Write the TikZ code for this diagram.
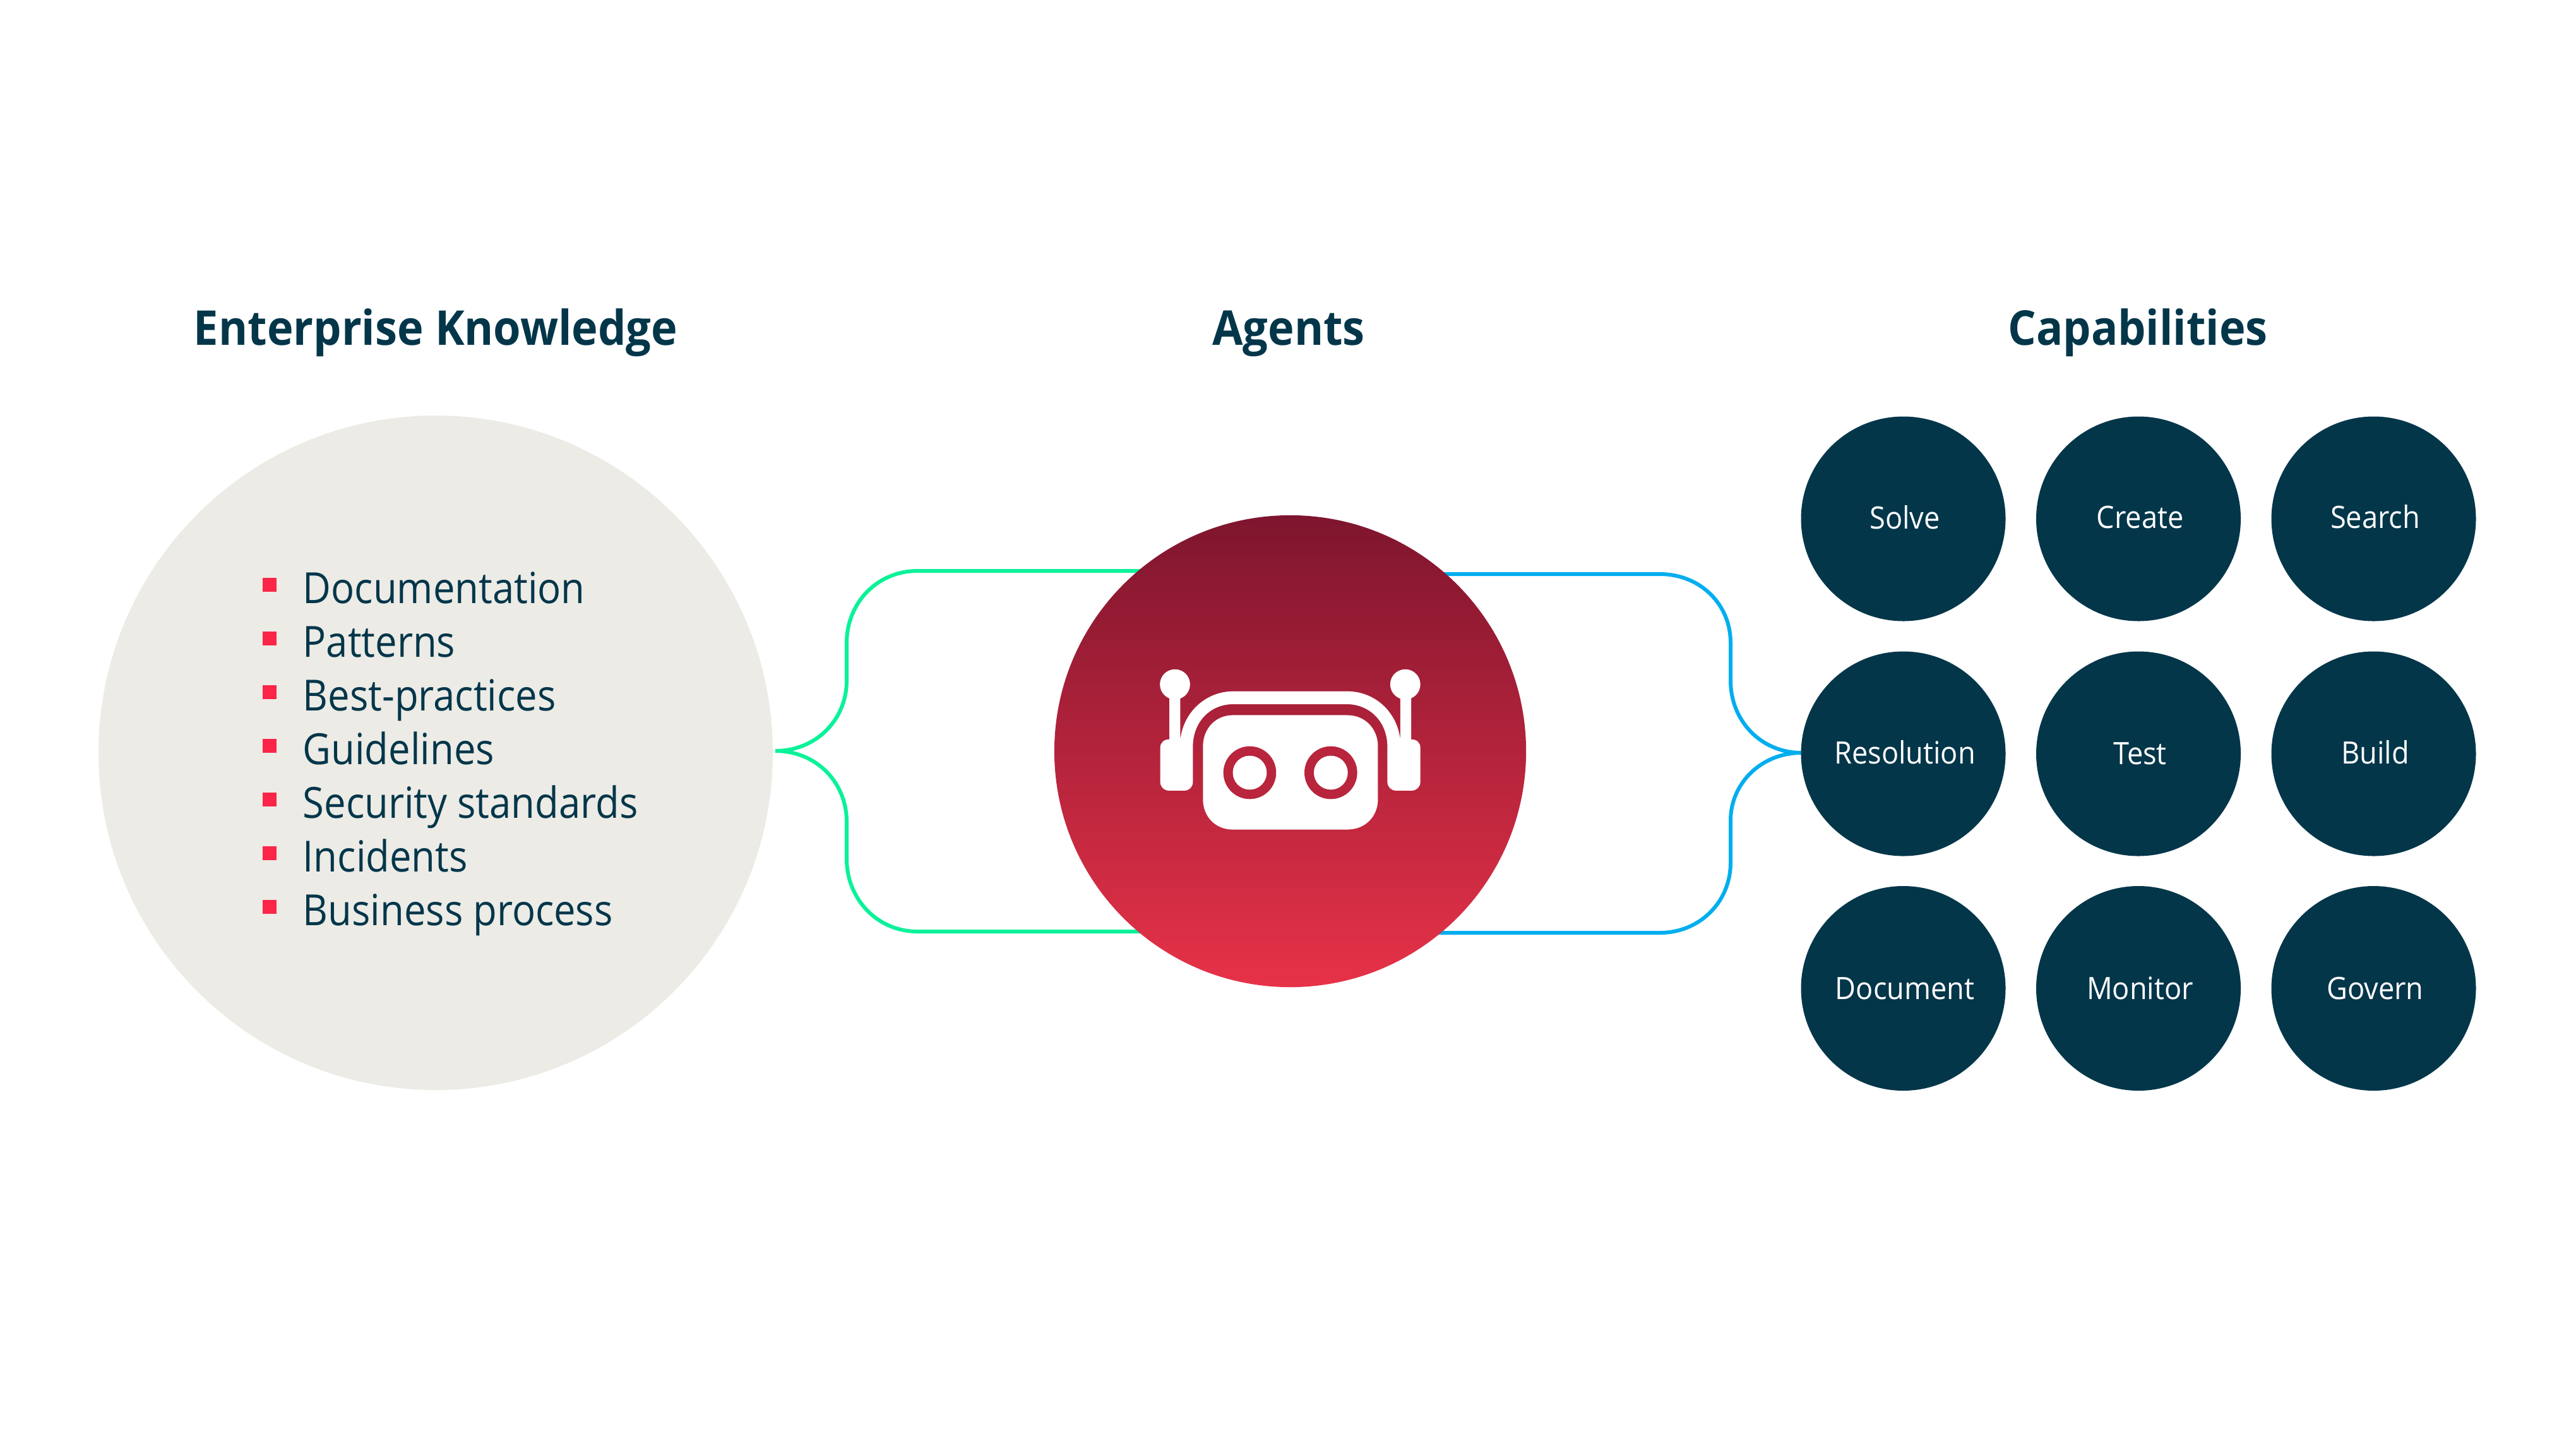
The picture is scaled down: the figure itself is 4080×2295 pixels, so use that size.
\documentclass[tikz,border=0pt]{standalone}
\usepackage{fontspec}
\setmainfont{Open Sans}
\newfontfamily\headfont[FakeStretch=0.925]{Open Sans}
\newfontfamily\listfont[FakeStretch=0.905]{Open Sans}
\newfontfamily\capfont[FakeStretch=0.925]{Open Sans}
\usetikzlibrary{shapes.geometric}
\definecolor{navy}{HTML}{04364A}
\definecolor{paper}{HTML}{ECEBE6}
\definecolor{mint}{HTML}{0AF299}
\definecolor{sky}{HTML}{00AEEF}
\definecolor{redbul}{HTML}{FB2548}
\definecolor{wine}{HTML}{7E152E}
\definecolor{rose}{HTML}{E73248}
\newcommand{\captext}[2][0pt]{\hspace*{1.25pt}\raisebox{#1}{#2}}
\tikzset{
  x=0.25pt,y=-0.25pt,
  heading/.style={font=\headfont\fontsize{19pt}{22pt}\selectfont\bfseries,text=navy,inner sep=0pt,anchor=base},
  capcircle/.style={circle,fill=navy,minimum size=81pt,inner sep=0pt,text=white,font=\capfont\fontsize{12.2pt}{14pt}\selectfont},
  listitem/.style={font=\listfont\fontsize{17pt}{20pt}\selectfont,text=navy,inner sep=0pt,anchor=base west},
  bulletmark/.style={fill=redbul,draw=none,inner sep=0pt,minimum size=5.5pt},
  linkg/.style={draw=mint,line width=1.5pt},
  linkb/.style={draw=sky,line width=1.5pt},
  iconfill/.style={fill=white,draw=none},
}
\begin{document}
\begin{tikzpicture}
\useasboundingbox (0,0) rectangle (4080,2295);
\fill[white] (0,0) rectangle (4080,2295);
% headings
\node[heading] (h1) at (690,546) {Enterprise Knowledge};
\node[heading] (h2) at (2041,546) {Agents};
\node[heading] (h3) at (3386,546) {Capabilities};
% knowledge circle
\node[circle,fill=paper,minimum size=267pt,inner sep=0pt] (know) at (690,1192) {};
% connectors
\coordinate (gtip) at (1228,1189);
\coordinate (btip) at (2853,1192);
\draw[linkg] (gtip) .. controls (1293,1189) and (1341,1139) .. (1341,1078) -- (1341,1018)
  .. controls (1341,954) and (1390,904) .. (1453,904) -- (1900,904);
\draw[linkg] (gtip) .. controls (1293,1189) and (1341,1239) .. (1341,1301) -- (1341,1360)
  .. controls (1341,1424) and (1390,1475) .. (1453,1475) -- (1900,1475);
\draw[linkb] (btip) .. controls (2790,1192) and (2741,1142) .. (2741,1078) -- (2741,1018)
  .. controls (2741,956) and (2692,909) .. (2629,909) -- (2200,909);
\draw[linkb] (btip) .. controls (2790,1192) and (2741,1240) .. (2741,1299) -- (2741,1366)
  .. controls (2741,1428) and (2692,1477) .. (2629,1477) -- (2200,1477);
% agent circle
\node[circle,shade,top color=wine,bottom color=rose,minimum size=186.8pt,inner sep=0pt] (agent) at (2043.5,1189.5) {};
% robot icon
\begin{scope}[shift={(1650,800)},x=0.1244pt,y=-0.1244pt]
  \fill[iconfill] (608,668) -- (972,668) .. controls (1030,668) and (1070,712) .. (1070,768)
    -- (1070,935) .. controls (1070,990) and (1030,1032) .. (972,1032) -- (608,1032)
    .. controls (552,1032) and (513,990) .. (513,935) -- (513,768) .. controls (513,712) and (552,668) .. (608,668) -- cycle;
  \fill[rose!55!wine] (662,851) circle [radius=84] (920,851) circle [radius=84];
  \fill[iconfill] (662,851) circle [radius=54] (920,851) circle [radius=54];
  % arch and earpieces
  \fill[iconfill] (441,745) .. controls (452,655) and (525,592) .. (610,592) -- (972,592)
    .. controls (1058,592) and (1130,655) .. (1141,745) -- (1141,612)
    -- (1176,612) -- (1176,745) .. controls (1193,745) and (1205,755) .. (1205,772) -- (1205,880)
    .. controls (1205,896) and (1193,908) .. (1177,908) -- (1127,908)
    .. controls (1112,908) and (1100,896) .. (1100,880) -- (1100,768)
    .. controls (1100,690) and (1045,633) .. (970,633) -- (610,633)
    .. controls (535,633) and (481,690) .. (481,768) -- (481,880)
    .. controls (481,896) and (470,908) .. (454,908) -- (404,908)
    .. controls (389,908) and (377,896) .. (377,880) -- (377,772)
    .. controls (377,755) and (389,745) .. (406,745) -- (406,612) -- (441,612) -- cycle;
  \fill[iconfill] (424,570) circle [radius=48] (1157,570) circle [radius=48];
\end{scope}
% list
\foreach \t/\yy [count=\i] in {Documentation/955,Patterns/1040,Best-practices/1125,Guidelines/1210,Security standards/1295,Incidents/1380,Business process/1465}{
  \node[bulletmark] (b\i) at (427,\yy-29) {};
  \node[listitem] (t\i) at (479,\yy) {\t};
}
% capabilities
\node[capcircle] (c11) at (3014.5,821.5) {\captext[1.3pt]{Solve}};
\node[capcircle] (c12) at (3387,821.5) {\captext[1.3pt]{Create}};
\node[capcircle] (c13) at (3759.5,821.5) {\captext[2pt]{Search}};
\node[capcircle] (c21) at (3014.5,1193.5) {\captext[1.3pt]{Resolution}};
\node[capcircle] (c22) at (3387,1193.5) {\captext{Test}};
\node[capcircle] (c23) at (3759.5,1193.5) {\captext[1.3pt]{Build}};
\node[capcircle] (c31) at (3014.5,1565) {\captext{Document}};
\node[capcircle] (c32) at (3387,1565) {\captext{Monitor}};
\node[capcircle] (c33) at (3759.5,1565) {\captext{Govern}};
\end{tikzpicture}
\end{document}
